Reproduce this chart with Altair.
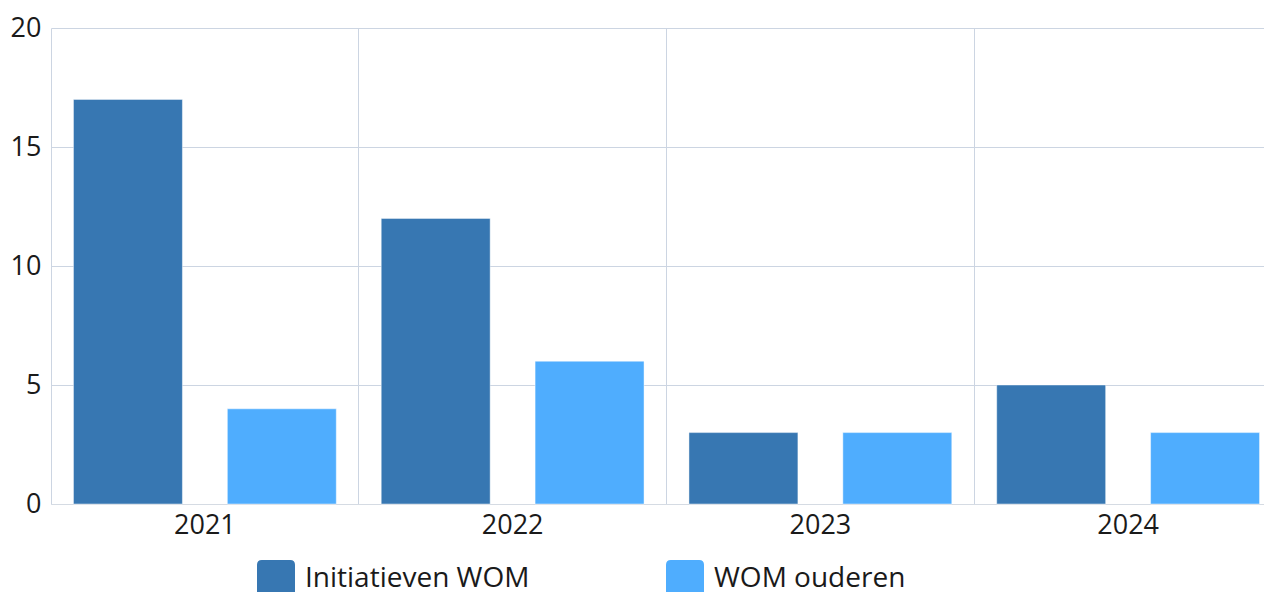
import altair as alt
import pandas as pd

years = ["2021", "2022", "2023", "2024"]
series = ["Initiatieven WOM", "WOM ouderen"]
initiatieven = [17, 12, 3, 5]
ouderen = [4, 6, 3, 3]
colors = ["#3777b2", "#4fadfe"]

rows = []
for i, y in enumerate(years):
    rows.append({"jaar": y, "reeks": series[0], "waarde": initiatieven[i]})
    rows.append({"jaar": y, "reeks": series[1], "waarde": ouderen[i]})
df = pd.DataFrame(rows)

FONT = "Open Sans"
rounded = "M-0.75,-1 H0.75 Q1,-1 1,-0.75 V0.75 Q1,1 0.75,1 H-0.75 Q-1,1 -1,0.75 V-0.75 Q-1,-1 -0.75,-1 Z"

chart = alt.Chart(df).mark_bar(stroke="#ffffff", strokeOpacity=0.45, strokeWidth=1).encode(
    x=alt.X("jaar:N", sort=years, title=None,
            scale=alt.Scale(paddingInner=0, paddingOuter=0, range=[0, 1231]),
            axis=alt.Axis(labelAngle=0, grid=True, bandPosition=0, ticks=False,
                          labelFontSize=27, labelFont=FONT, labelColor="#1a1a1a",
                          labelPadding=8, domainColor="#d5dbe3", gridColor="#ccd5e2")),
    xOffset=alt.XOffset("reeks:N", sort=series,
                        scale=alt.Scale(paddingInner=0.292, paddingOuter=0.146)),
    y=alt.Y("waarde:Q", title=None,
            scale=alt.Scale(domain=[0, 20]),
            axis=alt.Axis(values=[0, 5, 10, 15, 20], ticks=False, domain=False,
                          labelFontSize=27, labelFont=FONT, labelColor="#1a1a1a",
                          labelPadding=10, gridColor="#ccd5e2")),
    color=alt.Color("reeks:N", sort=series,
                    scale=alt.Scale(domain=series, range=colors),
                    legend=alt.Legend(title=None, orient="none", legendX=206, legendY=532,
                                      direction="horizontal", symbolType=rounded,
                                      symbolSize=1444, symbolStrokeWidth=0,
                                      labelFontSize=28, labelFont=FONT, labelColor="#1a1a1a",
                                      labelOffset=10, columnPadding=136, labelLimit=500)),
).properties(
    width=1213, height=476,
    autosize=alt.AutoSizeParams(type="none"),
    padding={"left": 43, "top": 20, "right": 0, "bottom": 88},
).configure_view(stroke=None)

chart.save("out.html", embed_options={"renderer": "svg", "actions": False})
